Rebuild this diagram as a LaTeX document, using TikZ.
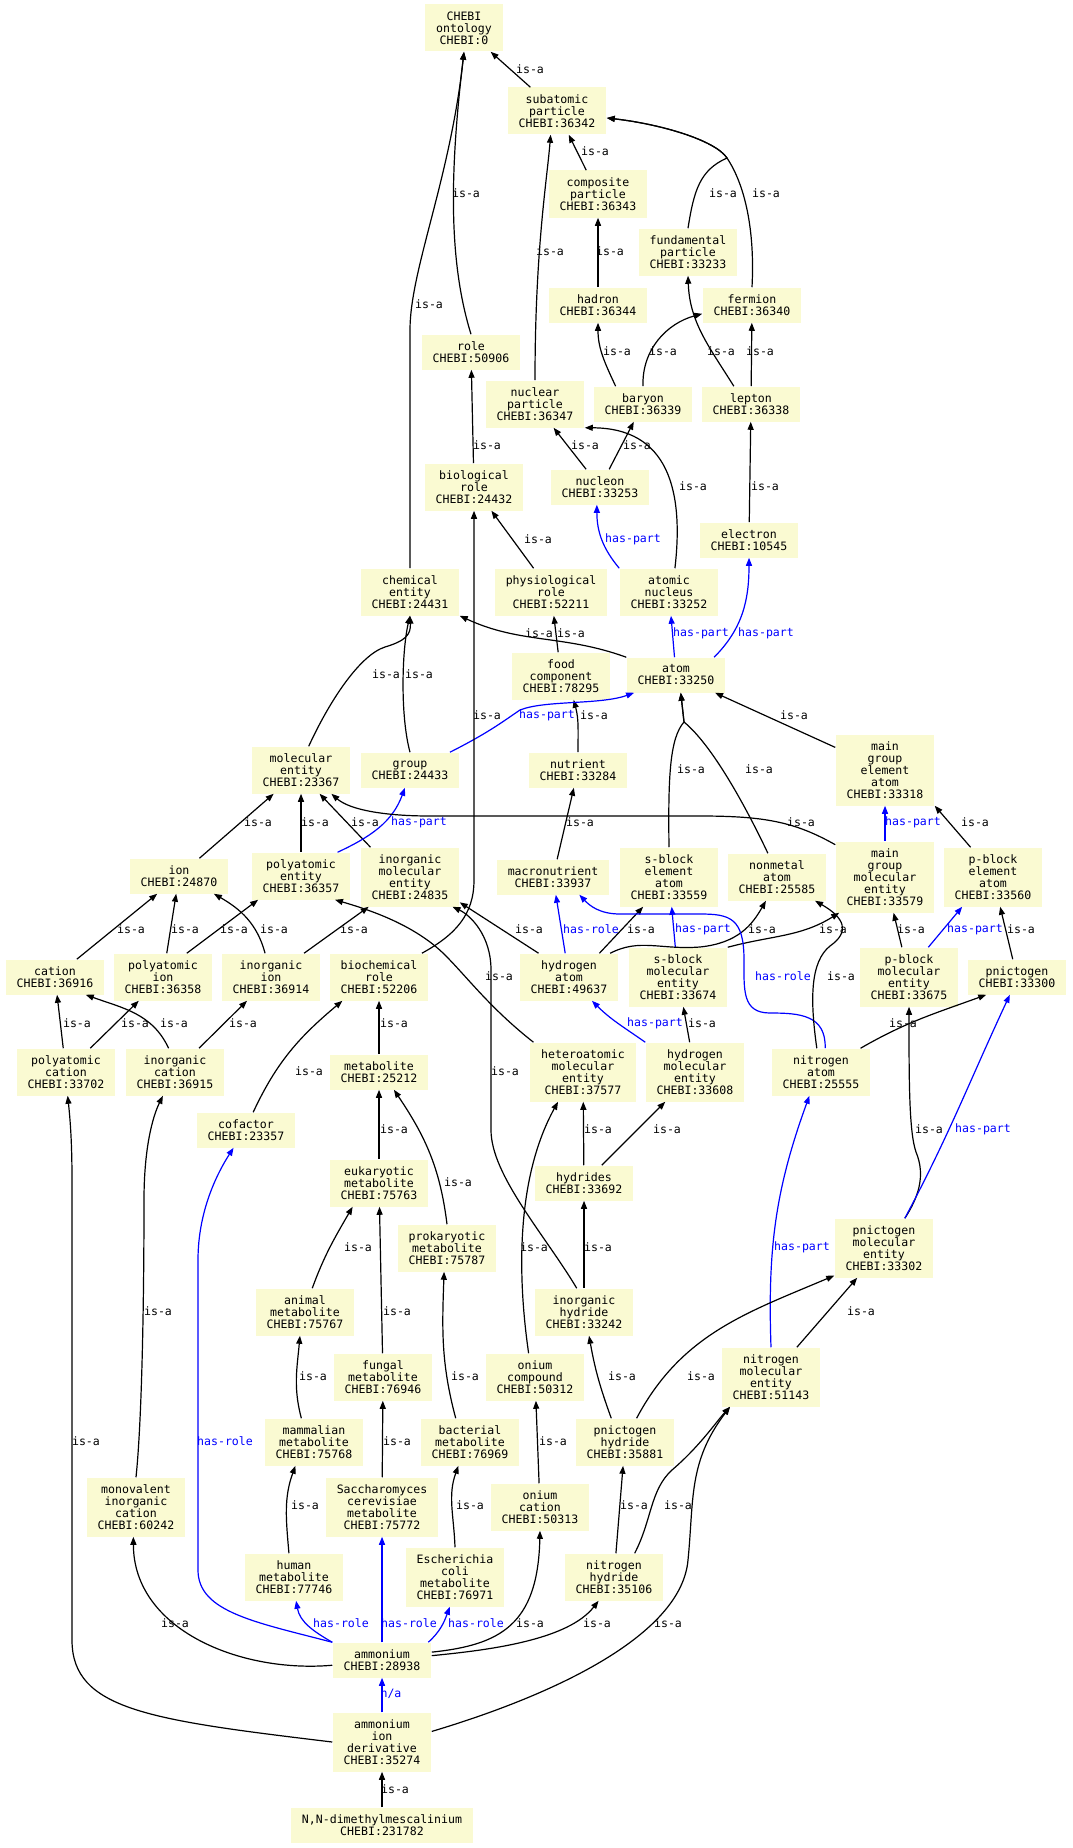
\documentclass[tikz,border=0pt]{standalone}
\usepackage{fontspec}
\setmonofont{DejaVu Sans Mono}
\usepackage{xcolor}
\usetikzlibrary{arrows.meta}
\definecolor{termfill}{RGB}{250,250,210}
\tikzset{
  %% Ontology term boxes (#1 = number of text lines)
  termbox/.style={
    rectangle, draw=none, fill=termfill,
    inner xsep=8.4pt, inner ysep=2pt,
    minimum height={#1*9pt+8.25pt},
    align=center, font=\ttfamily\fontsize{8.67}{9}\selectfont},
  termbox/.default=3,
  %% Relation labels
  isalabel/.style={font=\ttfamily\fontsize{8.67}{9}\selectfont, text=black, inner sep=0pt},
  rellabel/.style={isalabel, text=blue},
  %% Arrows
  isaarrow/.style={-{Triangle[length=6pt,width=4.5pt]}, line width=0.9pt, black},
  relarrow/.style={isaarrow, blue},
}
\begin{document}
\begin{tikzpicture}[x=0.75pt, y=-0.75pt]
  \useasboundingbox (0,0) rectangle (1072,1848);

  %% Terms, top to bottom
  \node[termbox] (onto) at (464,28) {CHEBI\\ontology\\CHEBI:0};
  \node[termbox] (subat) at (557,111) {subatomic\\particle\\CHEBI:36342};
  \node[termbox] (compo) at (598,194) {composite\\particle\\CHEBI:36343};
  \node[termbox] (fundp) at (688,252) {fundamental\\particle\\CHEBI:33233};
  \node[termbox=2] (hadron) at (598,305) {hadron\\CHEBI:36344};
  \node[termbox=2] (fermion) at (752,305) {fermion\\CHEBI:36340};
  \node[termbox=2] (role) at (471,352) {role\\CHEBI:50906};
  \node[termbox] (nuclp) at (535,404) {nuclear\\particle\\CHEBI:36347};
  \node[termbox=2] (baryon) at (643,404) {baryon\\CHEBI:36339};
  \node[termbox=2] (lepton) at (751,404) {lepton\\CHEBI:36338};
  \node[termbox] (biorole) at (474,487) {biological\\role\\CHEBI:24432};
  \node[termbox=2] (nucleon) at (600,487) {nucleon\\CHEBI:33253};
  \node[termbox=2] (electron) at (749,540) {electron\\CHEBI:10545};
  \node[termbox] (chement) at (410,592) {chemical\\entity\\CHEBI:24431};
  \node[termbox] (physrole) at (551,592) {physiological\\role\\CHEBI:52211};
  \node[termbox] (atnucl) at (669,592) {atomic\\nucleus\\CHEBI:33252};
  \node[termbox] (foodc) at (561,676) {food\\component\\CHEBI:78295};
  \node[termbox=2] (atom) at (676,675) {atom\\CHEBI:33250};
  \node[termbox] (molent) at (301,770) {molecular\\entity\\CHEBI:23367};
  \node[termbox=2] (group) at (410,770) {group\\CHEBI:24433};
  \node[termbox=2] (nutrient) at (578,770) {nutrient\\CHEBI:33284};
  \node[termbox=5] (mgeatom) at (885,770) {main\\group\\element\\atom\\CHEBI:33318};
  \node[termbox=2] (ion) at (179,876) {ion\\CHEBI:24870};
  \node[termbox] (polyent) at (301,876) {polyatomic\\entity\\CHEBI:36357};
  \node[termbox=4] (inorgme) at (410,877) {inorganic\\molecular\\entity\\CHEBI:24835};
  \node[termbox=2] (macro) at (553,877) {macronutrient\\CHEBI:33937};
  \node[termbox=4] (sbatom) at (669,877) {s-block\\element\\atom\\CHEBI:33559};
  \node[termbox] (nonmet) at (777,877) {nonmetal\\atom\\CHEBI:25585};
  \node[termbox=5] (mgme) at (885,877) {main\\group\\molecular\\entity\\CHEBI:33579};
  \node[termbox=4] (pbatom) at (993,877) {p-block\\element\\atom\\CHEBI:33560};
  \node[termbox=2] (cation) at (55,977) {cation\\CHEBI:36916};
  \node[termbox] (polyion) at (163,977) {polyatomic\\ion\\CHEBI:36358};
  \node[termbox] (inorgion) at (271,977) {inorganic\\ion\\CHEBI:36914};
  \node[termbox] (biochem) at (379,977) {biochemical\\role\\CHEBI:52206};
  \node[termbox] (hatom) at (569,977) {hydrogen\\atom\\CHEBI:49637};
  \node[termbox=4] (sbme) at (678,977) {s-block\\molecular\\entity\\CHEBI:33674};
  \node[termbox=4] (pbme) at (909,977) {p-block\\molecular\\entity\\CHEBI:33675};
  \node[termbox=2] (pnict) at (1017,977) {pnictogen\\CHEBI:33300};
  \node[termbox] (polycat) at (66,1072) {polyatomic\\cation\\CHEBI:33702};
  \node[termbox] (inorgcat) at (175,1072) {inorganic\\cation\\CHEBI:36915};
  \node[termbox=2] (metab) at (379,1072) {metabolite\\CHEBI:25212};
  \node[termbox=4] (hetero) at (583,1072) {heteroatomic\\molecular\\entity\\CHEBI:37577};
  \node[termbox=4] (hme) at (695,1072) {hydrogen\\molecular\\entity\\CHEBI:33608};
  \node[termbox] (natom) at (821,1072) {nitrogen\\atom\\CHEBI:25555};
  \node[termbox=2] (cofactor) at (246,1130) {cofactor\\CHEBI:23357};
  \node[termbox] (eukmet) at (379,1183) {eukaryotic\\metabolite\\CHEBI:75763};
  \node[termbox=2] (hydrides) at (584,1183) {hydrides\\CHEBI:33692};
  \node[termbox] (prokmet) at (447,1248) {prokaryotic\\metabolite\\CHEBI:75787};
  \node[termbox=4] (pnme) at (884,1248) {pnictogen\\molecular\\entity\\CHEBI:33302};
  \node[termbox] (animet) at (305,1312) {animal\\metabolite\\CHEBI:75767};
  \node[termbox] (inhyd) at (584,1312) {inorganic\\hydride\\CHEBI:33242};
  \node[termbox] (fungmet) at (383,1377) {fungal\\metabolite\\CHEBI:76946};
  \node[termbox] (oniumcomp) at (535,1377) {onium\\compound\\CHEBI:50312};
  \node[termbox=4] (nme) at (771,1377) {nitrogen\\molecular\\entity\\CHEBI:51143};
  \node[termbox] (mammet) at (314,1442) {mammalian\\metabolite\\CHEBI:75768};
  \node[termbox] (bactmet) at (470,1442) {bacterial\\metabolite\\CHEBI:76969};
  \node[termbox] (pnhyd) at (625,1442) {pnictogen\\hydride\\CHEBI:35881};
  \node[termbox=4] (monocat) at (136,1507) {monovalent\\inorganic\\cation\\CHEBI:60242};
  \node[termbox=4] (saccmet) at (382,1507) {Saccharomyces\\cerevisiae\\metabolite\\CHEBI:75772};
  \node[termbox] (oniumcat) at (540,1507) {onium\\cation\\CHEBI:50313};
  \node[termbox] (humet) at (294,1577) {human\\metabolite\\CHEBI:77746};
  \node[termbox=4] (ecoli) at (455,1577) {Escherichia\\coli\\metabolite\\CHEBI:76971};
  \node[termbox] (nhyd) at (614,1577) {nitrogen\\hydride\\CHEBI:35106};
  \node[termbox=2] (ammonium) at (382,1660) {ammonium\\CHEBI:28938};
  \node[termbox=4] (aider) at (382,1742) {ammonium\\ion\\derivative\\CHEBI:35274};
  \node[termbox=2] (nndm) at (382,1825) {N,N-dimethylmescalinium\\CHEBI:231782};

  %% Particles
  \draw[isaarrow] (subat) -- (onto) node[isalabel, at={(530,69)}] {is-a};
  \draw[isaarrow] (role.north) .. controls (448,260) and (450,170) .. (onto.south) node[isalabel, at={(466,193)}] {is-a};
  \draw[isaarrow] (chement.north) -- (410,330) .. controls (410,270) and (450,180) .. (onto.south) node[isalabel, at={(429,304)}] {is-a};
  \draw[isaarrow] (compo) -- (subat) node[isalabel, at={(595,151)}] {is-a};
  \draw[isaarrow] (nuclp.north) .. controls (535,250) and (547,180) .. (subat.-105) node[isalabel, at={(550,251)}] {is-a};
  \draw[isaarrow] (fundp.north) .. controls (694,190) and (700,170) .. (727,158) .. controls (715,140) and (660,124) .. (subat.-8) node[isalabel, at={(723,193)}] {is-a};
  \draw[isaarrow] (fermion.north) .. controls (755,230) and (745,185) .. (727,158) .. controls (715,140) and (660,124) .. (subat.-8) node[isalabel, at={(766,193)}] {is-a};
  \draw[isaarrow] (hadron) -- (compo) node[isalabel, at={(610,251)}] {is-a};
  \draw[isaarrow] (baryon.147) to[out=115,in=-90] (hadron.south) node[isalabel, at={(617,351)}] {is-a};
  \draw[isaarrow] (baryon.north) to[out=92,in=195] (fermion.190) node[isalabel, at={(663,351)}] {is-a};
  \draw[isaarrow] (lepton.134) to[out=122,in=-88] (fundp.south) node[isalabel, at={(721,351)}] {is-a};
  \draw[isaarrow] (lepton) -- (fermion) node[isalabel, at={(760,351)}] {is-a};
  \draw[isaarrow] (nucleon) -- (nuclp) node[isalabel, at={(585,445)}] {is-a};
  \draw[isaarrow] (nucleon) -- (baryon) node[isalabel, at={(637,445)}] {is-a};
  \draw[isaarrow] (atnucl.76) .. controls (684,490) and (668,428) .. (nuclp.south east) node[isalabel, at={(693,486)}] {is-a};
  \draw[isaarrow] (electron) -- (lepton) node[isalabel, at={(765,486)}] {is-a};
  \draw[relarrow] (atnucl.north west) to[out=130,in=-90] (nucleon.-100) node[rellabel, at={(633,539)}] {has-part};

  %% Roles and entities
  \draw[isaarrow] (biorole) -- (role) node[isalabel, at={(487,445)}] {is-a};
  \draw[isaarrow] (physrole) -- (biorole) node[isalabel, at={(538,539)}] {is-a};
  \draw[isaarrow] (atom.north west) to[out=160,in=-25] (chement.south east) node[isalabel, at={(539,633)}] {is-a};
  \draw[isaarrow] (foodc) -- (physrole) node[isalabel, at={(571,633)}] {is-a};
  \draw[relarrow] (atom) -- (atnucl) node[rellabel, at={(701,633)}] {has-part};
  \draw[relarrow] (atom.25) to[out=45,in=-90] (electron.south) node[rellabel, at={(766,633)}] {has-part};
  \draw[isaarrow] (nutrient.north) to[out=90,in=-75] (foodc.-62) node[isalabel, at={(594,715)}] {is-a};
  \draw[relarrow] (group.24) .. controls (490,732) and (505,720) .. (520,710) .. controls (545,700) and (600,705) .. (atom.203) node[rellabel, at={(547,715)}] {has-part};
  \draw[isaarrow] (molent.72) .. controls (330,700) and (360,655) .. (385,647) .. controls (405,641) and (411,635) .. (chement.south) node[isalabel, at={(386,674)}] {is-a};
  \draw[isaarrow] (group.north) .. controls (400,715) and (402,650) .. (chement.south) node[isalabel, at={(419,674)}] {is-a};
  \draw[isaarrow] (biochem.29) .. controls (455,935) and (474,915) .. (474,880) -- (biorole.south) node[isalabel, at={(487,715)}] {is-a};
  \draw[isaarrow] (mgeatom) -- (atom) node[isalabel, at={(794,715)}] {is-a};
  \draw[isaarrow] (sbatom.north) .. controls (668,775) and (670,738) .. (684,722) -- (atom.-75) node[isalabel, at={(691,769)}] {is-a};
  \draw[isaarrow] (nonmet.111) .. controls (745,805) and (712,745) .. (684,722) -- (atom.-75) node[isalabel, at={(759,769)}] {is-a};

  %% Molecular entities
  \draw[isaarrow] (ion) -- (molent) node[isalabel, at={(258,822)}] {is-a};
  \draw[isaarrow] (polyent) -- (molent) node[isalabel, at={(315,822)}] {is-a};
  \draw[isaarrow] (inorgme.143) -- (molent.-52) node[isalabel, at={(365,822)}] {is-a};
  \draw[relarrow] (polyent.33) to[out=25,in=-110] (group.-106) node[rellabel, at={(419,822)}] {has-part};
  \draw[isaarrow] (mgme.147) .. controls (795,822) and (765,816) .. (700,816) -- (430,816) .. controls (385,816) and (350,810) .. (molent.-38) node[isalabel, at={(801,822)}] {is-a};
  \draw[isaarrow] (macro) -- (nutrient) node[isalabel, at={(580,822)}] {is-a};
  \draw[relarrow] (mgme) -- (mgeatom) node[rellabel, at={(913,822)}] {has-part};
  \draw[isaarrow] (pbatom.127) -- (mgeatom.south east) node[isalabel, at={(975,822)}] {is-a};

  %% Ions and atoms
  \draw[isaarrow] (cation) -- (ion) node[isalabel, at={(131,929)}] {is-a};
  \draw[isaarrow] (polyion) -- (ion) node[isalabel, at={(185,929)}] {is-a};
  \draw[isaarrow] (polyion.45) -- (polyent.209) node[isalabel, at={(234,929)}] {is-a};
  \draw[isaarrow] (inorgion.104) to[out=105,in=-30] (ion.-27) node[isalabel, at={(274,929)}] {is-a};
  \draw[isaarrow] (inorgion) -- (inorgme) node[isalabel, at={(354,929)}] {is-a};
  \draw[isaarrow] (hetero.149) .. controls (490,1008) and (468,978) .. (445,955) .. controls (415,925) and (370,910) .. (polyent.-35) node[isalabel, at={(499,976)}] {is-a};
  \draw[isaarrow] (hatom.142) -- (inorgme.-27) node[isalabel, at={(529,929)}] {is-a};
  \draw[relarrow] (hatom) -- (macro) node[rellabel, at={(591,929)}] {has-role};
  \draw[isaarrow] (hatom.38) -- (sbatom.-131) node[isalabel, at={(641,929)}] {is-a};
  \draw[relarrow] (sbme) -- (sbatom) node[rellabel, at={(703,929)}] {has-part};
  \draw[isaarrow] (hatom.30) .. controls (640,938) and (660,950) .. (700,947) .. controls (738,943) and (752,925) .. (nonmet.-115) node[isalabel, at={(762,929)}] {is-a};
  \draw[isaarrow] (sbme.north east) to[out=15,in=-148] (mgme.218) node[isalabel, at={(833,929)}] {is-a};
  \draw[relarrow] (natom.80) .. controls (826,1015) and (800,1013) .. (770,1013) .. controls (742,1013) and (744,990) .. (744,960) .. controls (744,918) and (730,914) .. (700,914) -- (620,914) .. controls (600,914) and (590,906) .. (macro.-34) node[rellabel, at={(783,976)}] {has-role};
  \draw[isaarrow] (natom.100) .. controls (810,1000) and (810,962) .. (830,946) .. controls (850,932) and (845,918) .. (nonmet.-32) node[isalabel, at={(841,976)}] {is-a};
  \draw[isaarrow] (pbme) -- (mgme) node[isalabel, at={(911,929)}] {is-a};
  \draw[relarrow] (pbme.57) -- (pbatom.-136) node[rellabel, at={(975,929)}] {has-part};
  \draw[isaarrow] (pnict) -- (pbatom) node[isalabel, at={(1021,929)}] {is-a};

  %% Cations, metabolites, hydrides
  \draw[isaarrow] (polycat) -- (cation) node[isalabel, at={(77,1023)}] {is-a};
  \draw[isaarrow] (polycat) -- (polyion) node[isalabel, at={(135,1023)}] {is-a};
  \draw[isaarrow] (inorgcat.105) to[out=115,in=-20] (cation.-30) node[isalabel, at={(174,1023)}] {is-a};
  \draw[isaarrow] (inorgcat) -- (inorgion) node[isalabel, at={(243,1023)}] {is-a};
  \draw[isaarrow] (metab) -- (biochem) node[isalabel, at={(394,1023)}] {is-a};
  \draw[relarrow] (hme.north west) to[out=145,in=-45] (hatom.-46) node[rellabel, at={(655,1023)}] {has-part};
  \draw[isaarrow] (hme) -- (sbme) node[isalabel, at={(702,1023)}] {is-a};
  \draw[isaarrow] (natom.31) to[out=30,in=200] (pnict.210) node[isalabel, at={(903,1023)}] {is-a};
  \draw[isaarrow] (cofactor.68) to[out=65,in=-140] (biochem.213) node[isalabel, at={(309,1071)}] {is-a};
  \draw[isaarrow] (inhyd.107) .. controls (545,1235) and (491,1175) .. (491,1130) -- (491,970) .. controls (491,935) and (470,915) .. (inorgme.-35) node[isalabel, at={(505,1071)}] {is-a};
  \draw[isaarrow] (eukmet) -- (metab) node[isalabel, at={(394,1129)}] {is-a};
  \draw[isaarrow] (hydrides) -- (hetero) node[isalabel, at={(598,1129)}] {is-a};
  \draw[isaarrow] (hydrides) -- (hme) node[isalabel, at={(667,1129)}] {is-a};
  \draw[isaarrow] (pnme.55) .. controls (918,1198) and (926,1176) .. (916,1152) .. controls (909,1132) and (909,1080) .. (pbme.south) node[isalabel, at={(929,1129)}] {is-a};
  \draw[relarrow] (pnme.55) to[out=62,in=-115] (pnict.-112) node[rellabel, at={(983,1129)}] {has-part};
  \draw[isaarrow] (prokmet.north) to[out=97,in=-56] (metab.-50) node[isalabel, at={(458,1182)}] {is-a};
  \draw[isaarrow] (animet.73) to[out=70,in=-120] (eukmet.222) node[isalabel, at={(358,1247)}] {is-a};
  \draw[isaarrow] (oniumcomp.105) .. controls (518,1280) and (515,1180) .. (hetero.-130) node[isalabel, at={(534,1247)}] {is-a};
  \draw[isaarrow] (inhyd) -- (hydrides) node[isalabel, at={(598,1247)}] {is-a};
  \draw[relarrow] (nme.north) to[out=92,in=-110] (natom.-116) node[rellabel, at={(802,1247)}] {has-part};
  \draw[isaarrow] (fungmet) -- (eukmet) node[isalabel, at={(397,1311)}] {is-a};
  \draw[isaarrow] (nme.49) -- (pnme.-132) node[isalabel, at={(861,1311)}] {is-a};
  \draw[isaarrow] (mammet.118) to[out=105,in=-95] (animet.-102) node[isalabel, at={(313,1376)}] {is-a};
  \draw[isaarrow] (bactmet.121) to[out=105,in=-92] (prokmet.-97) node[isalabel, at={(465,1376)}] {is-a};
  \draw[isaarrow] (pnhyd.120) to[out=110,in=-80] (inhyd.-78) node[isalabel, at={(622,1376)}] {is-a};
  \draw[isaarrow] (pnhyd.64) to[out=62,in=-157] (pnme.209) node[isalabel, at={(701,1376)}] {is-a};
  \draw[isaarrow] (saccmet) -- (fungmet) node[isalabel, at={(397,1441)}] {is-a};
  \draw[isaarrow] (oniumcat) -- (oniumcomp) node[isalabel, at={(553,1441)}] {is-a};
  \draw[isaarrow] (humet.102) to[out=95,in=-110] (mammet.-128) node[isalabel, at={(305,1505)}] {is-a};
  \draw[isaarrow] (ecoli.north) to[out=92,in=-110] (bactmet.-116) node[isalabel, at={(470,1505)}] {is-a};
  \draw[isaarrow] (nhyd) -- (pnhyd) node[isalabel, at={(634,1505)}] {is-a};
  \draw[isaarrow] (nhyd.49) .. controls (652,1520) and (650,1490) .. (672,1470) .. controls (700,1446) and (716,1422) .. (nme.216) node[isalabel, at={(678,1505)}] {is-a};
  \draw[isaarrow] (monocat.north) .. controls (142,1420) and (144,1300) .. (144,1200) .. controls (144,1150) and (152,1118) .. (inorgcat.-117) node[isalabel, at={(158,1311)}] {is-a};

  %% Ammonium
  \draw[relarrow] (ammonium.north west) .. controls (255,1622) and (198,1612) .. (198,1570) -- (198,1260) .. controls (198,1210) and (218,1172) .. (cofactor.-125) node[rellabel, at={(225,1441)}] {has-role};
  \draw[isaarrow] (aider.west) .. controls (150,1720) and (72,1710) .. (72,1640) -- (72,1180) .. controls (72,1140) and (70,1118) .. (polycat.-86) node[isalabel, at={(86,1441)}] {is-a};
  \draw[isaarrow] (ammonium.186) to[out=185,in=-90] (monocat.-95) node[isalabel, at={(175,1623)}] {is-a};
  \draw[relarrow] (ammonium.north west) to[out=150,in=-80] (humet.-85) node[rellabel, at={(341,1623)}] {has-role};
  \draw[relarrow] (ammonium) -- (saccmet) node[rellabel, at={(409,1623)}] {has-role};
  \draw[relarrow] (ammonium.21) to[out=42,in=-110] (ecoli.-100) node[rellabel, at={(476,1623)}] {has-role};
  \draw[isaarrow] (ammonium.9) .. controls (500,1645) and (538,1625) .. (oniumcat.south) node[isalabel, at={(530,1623)}] {is-a};
  \draw[isaarrow] (ammonium.5) .. controls (490,1650) and (568,1640) .. (nhyd.-123) node[isalabel, at={(597,1623)}] {is-a};
  \draw[isaarrow] (aider.12) .. controls (570,1690) and (682,1630) .. (688,1560) .. controls (694,1500) and (688,1462) .. (nme.216) node[isalabel, at={(668,1623)}] {is-a};
  \draw[relarrow] (aider) -- (ammonium) node[rellabel, at={(391,1694)}] {n/a};
  \draw[isaarrow] (nndm) -- (aider) node[isalabel, at={(395,1789)}] {is-a};
\end{tikzpicture}
\end{document}
